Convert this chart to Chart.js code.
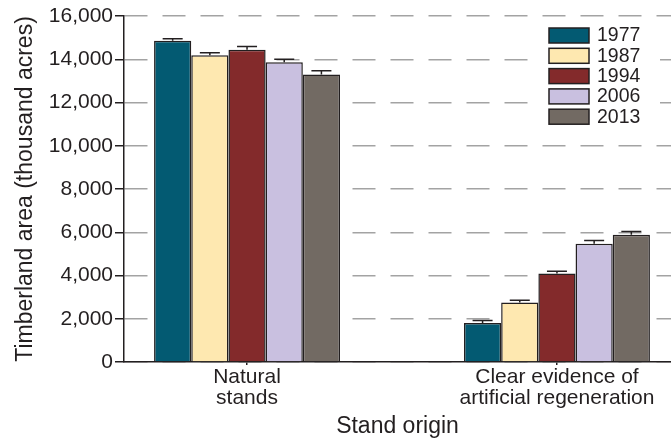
<!DOCTYPE html>
<html>
<head>
<meta charset="utf-8">
<script src="https://cdn.jsdelivr.net/npm/chart.js@4.4.1/dist/chart.umd.min.js"></script>
<style>
  html, body { margin: 0; padding: 0; background: #fff; }
  #wrap { width: 671px; height: 443px; position: relative; }
</style>
</head>
<body>
<div id="wrap"><canvas id="chart"></canvas></div>
<script>
// stand origin categories (x tick labels, one line per entry)
var categories = [['Natural', 'stands'], ['Clear evidence of', 'artificial regeneration']];
var years = ['1977', '1987', '1994', '2006', '2013'];

// timberland area, thousand acres
var area1977 = [14850, 1800];
var area1987 = [14180, 2750];
var area1994 = [14440, 4090];
var area2006 = [13860, 5470];
var area2013 = [13300, 5890];

// sampling error (+/-)
var err1977 = [100, 120];
var err1987 = [120, 110];
var err1994 = [150, 110];
var err2006 = [140, 150];
var err2013 = [170, 140];

var yTicks = [0, 2000, 4000, 6000, 8000, 10000, 12000, 14000, 16000];

var series = [area1977, area1987, area1994, area2006, area2013];
var errors = [err1977, err1987, err1994, err2006, err2013];
var colors = ['#035a72', '#fee8b0', '#832a2b', '#c9c0e0', '#726a63'];

var FONT = "'Liberation Sans', Arial, Helvetica, sans-serif";
var INK = '#231f20';

var datasets = series.map(function (vals, i) {
    return {
        label: years[i],
        data: vals.map(function (v, j) { return { x: j, y: v }; }),
        errors: errors[i],
        backgroundColor: colors[i],
        borderColor: INK,
        borderWidth: 1.5,
        categoryPercentage: 0.6,
        barPercentage: 1.0
    };
});

var errorBars = {
    id: 'errorBars',
    afterDatasetsDraw: function (chart) {
        var ctx = chart.ctx;
        var yScale = chart.scales.y;
        ctx.save();
        ctx.strokeStyle = INK;
        ctx.lineWidth = 1.5;
        chart.data.datasets.forEach(function (ds, i) {
            var meta = chart.getDatasetMeta(i);
            meta.data.forEach(function (bar, j) {
                var top = yScale.getPixelForValue(ds.data[j].y + ds.errors[j]);
                ctx.beginPath();
                ctx.moveTo(bar.x, bar.y);
                ctx.lineTo(bar.x, top);
                ctx.moveTo(bar.x - 10, top);
                ctx.lineTo(bar.x + 10, top);
                ctx.stroke();
            });
        });
        ctx.restore();
    }
};

var insideLegend = {
    id: 'insideLegend',
    afterDraw: function (chart) {
        var ctx = chart.ctx;
        var x0 = 549, y0 = 28, rowH = 20.3;
        ctx.save();
        ctx.fillStyle = '#fff';
        ctx.fillRect(537, 22, 123, 108);
        ctx.font = '19.5px ' + FONT;
        ctx.textBaseline = 'middle';
        ctx.textAlign = 'left';
        chart.data.datasets.forEach(function (ds, i) {
            var y = y0 + i * rowH;
            ctx.fillStyle = ds.backgroundColor;
            ctx.fillRect(x0, y, 40, 15);
            ctx.strokeStyle = INK;
            ctx.lineWidth = 1.5;
            ctx.strokeRect(x0, y, 40, 15);
            ctx.fillStyle = INK;
            ctx.fillText(ds.label, 597, y + 8);
        });
        ctx.restore();
    }
};

new Chart(document.getElementById('chart').getContext('2d'), {
    type: 'bar',
    data: { datasets: datasets },
    plugins: [errorBars, insideLegend],
    options: {
        responsive: true,
        maintainAspectRatio: false,
        animation: false,
        layout: { padding: { top: 16, right: 0, left: 0, bottom: 0 } },
        plugins: {
            legend: { display: false },
            tooltip: { enabled: false }
        },
        scales: {
            x: {
                type: 'linear',
                offset: false,
                bounds: 'data',
                min: -0.397,
                max: 1.368,
                afterBuildTicks: function (scale) {
                    scale.ticks = categories.map(function (c, i) { return { value: i }; });
                },
                afterFit: function (scale) { scale.height = 81; },
                grid: { offset: false, drawOnChartArea: false, tickLength: 3, color: INK, lineWidth: 1.5 },
                border: { color: INK, width: 1.5 },
                ticks: {
                    autoSkip: false,
                    maxRotation: 0,
                    padding: 2,
                    color: INK,
                    font: { family: FONT, size: 21, lineHeight: 1.0 },
                    callback: function (v) { return categories[v] || ''; }
                },
                title: {
                    display: true,
                    text: 'Stand origin',
                    color: INK,
                    font: { family: FONT, size: 23 },
                    padding: { top: 0, bottom: 3 }
                }
            },
            y: {
                min: 0,
                max: 16000,
                afterBuildTicks: function (scale) {
                    scale.ticks = yTicks.map(function (v) { return { value: v }; });
                },
                afterFit: function (scale) { scale.width = 124; },
                grid: { color: '#a3a3a3', lineWidth: 1.5, tickLength: 9, tickColor: INK },
                border: { color: INK, width: 1.5, dash: [23, 15] },
                ticks: {
                    padding: 2,
                    color: INK,
                    font: { family: FONT, size: 21 },
                    callback: function (v) { return v.toLocaleString('en-US'); }
                },
                title: {
                    display: true,
                    text: 'Timberland area (thousand acres)',
                    color: INK,
                    font: { family: FONT, size: 23 },
                    padding: { top: 12, bottom: 0 }
                }
            }
        }
    }
});
</script>
</body>
</html>
